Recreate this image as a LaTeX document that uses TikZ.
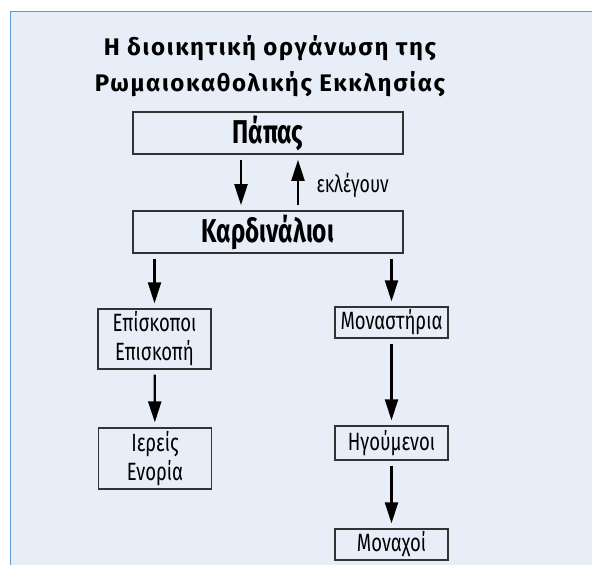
\documentclass[tikz,border=0pt]{standalone}
\usepackage{fontspec}
\usetikzlibrary{arrows.meta}
\setmainfont{Fira Sans}
\newfontfamily\titlefont[LetterSpace=7]{Fira Sans}
\newfontfamily\boxfont[FakeStretch=0.74]{Fira Sans}
\definecolor{panelfill}{HTML}{E7EEF8}
\definecolor{panelline}{HTML}{5B9BD5}
\definecolor{boxline}{HTML}{333333}
\tikzset{
  bigbox/.style={draw=boxline, line width=1.6pt, minimum width=270pt, minimum height=42pt, inner sep=0pt, font=\boxfont\bfseries\fontsize{33}{36}\selectfont},
  smallbox/.style={draw=boxline, line width=1.3pt, minimum width=113pt, inner sep=0pt, align=center, font=\boxfont\fontsize{25}{29}\selectfont},
  arr/.style={line width=2.2pt, -{Triangle[length=21pt,width=13pt]}, shorten <=5pt, shorten >=5pt},
}
\begin{document}
\begin{tikzpicture}[x=1pt,y=-1pt]
\useasboundingbox (0,0) rectangle (592,565);
\clip (0,0) rectangle (592,565);
\fill[panelfill] (10.5,11.5) rectangle (600,600);
\draw[panelline, line width=1.6pt] (10.5,600) -- (10.5,11.5) -- (600,11.5);
\node[font=\titlefont\bfseries\fontsize{24}{36}\selectfont, align=center] (title) at (270,66) {Η διοικητική οργάνωση της\\Ρωμαιοκαθολικής Εκκλησίας};
\node[bigbox] (papas) at (268,133) {Πάπας};
\node[bigbox] (kard) at (268,232) {Καρδινάλιοι};
\node[smallbox, minimum height=60pt] (episk) at (154.5,339) {Επίσκοποι\\Επισκοπή};
\node[smallbox, minimum height=31pt] (mon) at (391.5,322.5) {Μοναστήρια};
\node[smallbox, minimum height=61pt] (iereis) at (155,458.5) {Ιερείς\\Ενορία};
\node[smallbox, minimum height=34pt] (hgoum) at (391.5,443) {Ηγούμενοι};
\node[smallbox, minimum height=31pt] (monax) at (391.5,544.5) {Μοναχοί};
\draw[arr] ([xshift=-27pt]papas.south) -- ([xshift=-27pt]kard.north);
\draw[arr] ([xshift=30pt]kard.north) -- ([xshift=30pt]papas.south);
\node[anchor=west, font=\boxfont\fontsize{24}{26}\selectfont] (ekl) at (313,185) {εκλέγουν};
\draw[arr] (kard.south -| episk.north) -- (episk.north);
\draw[arr] (kard.south -| mon.north) -- (mon.north);
\draw[arr] (episk) -- (iereis);
\draw[arr] (mon) -- (hgoum);
\draw[arr] (hgoum) -- (monax);
\end{tikzpicture}
\end{document}
